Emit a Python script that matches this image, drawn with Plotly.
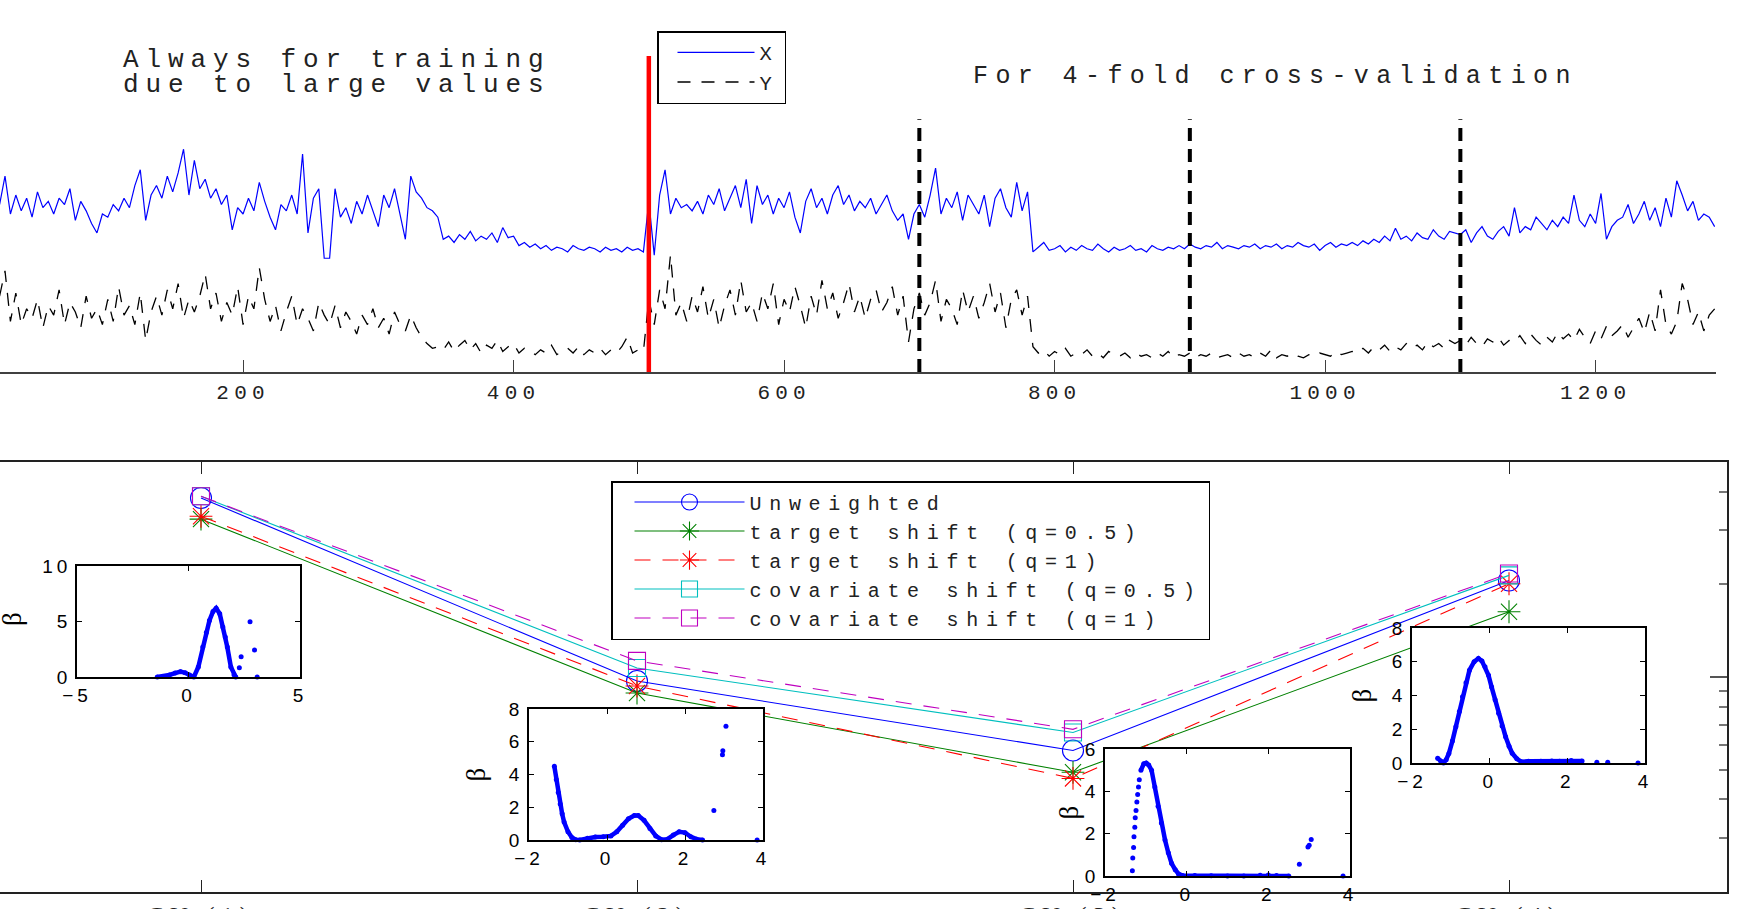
import numpy as np
import plotly.graph_objects as go

W, H = 1757, 909

# ---------------- top panel: time series ----------------
series_x = [
    5.3, 6.2, 5.0, 5.6, 5.1, 5.5, 4.9, 5.7, 5.2, 5.4,
    5.0, 5.5, 5.3, 5.8, 4.8, 5.4, 5.1, 4.7, 4.4, 5.0,
    4.9, 5.3, 5.1, 5.5, 5.2, 5.9, 6.4, 4.8, 5.6, 5.9,
    5.5, 6.2, 5.7, 6.3, 7.05, 5.6, 6.7, 5.8, 6.1, 5.5,
    5.8, 5.3, 5.6, 4.5, 5.2, 5.0, 5.5, 5.1, 6.0, 5.4,
    4.9, 4.5, 5.3, 5.1, 5.6, 5.0, 6.9, 4.4, 5.5, 5.8,
    3.6, 3.6, 5.8, 4.9, 5.2, 4.7, 5.4, 5.0, 5.6, 5.1,
    4.6, 5.6, 5.2, 5.8, 5.0, 4.2, 6.2, 5.7, 5.5, 5.2,
    5.1, 4.9, 4.2, 4.3, 4.1, 4.35, 4.2, 4.45, 4.15, 4.3,
    4.2, 4.4, 4.1, 4.57, 4.25, 4.3, 4.0, 4.1, 3.95, 4.05,
    3.9, 4.0, 3.85, 3.95, 3.9, 3.8, 4.0, 3.9, 3.85, 3.95,
    3.9, 3.8, 3.95, 3.85, 3.9, 3.8, 3.95, 3.85, 3.9, 3.8,
    5.4, 3.7, 5.6, 6.4, 5.0, 5.5, 5.2, 5.3, 5.1, 5.4,
    5.0, 5.6, 5.3, 5.8, 5.1, 5.5, 5.9, 5.2, 6.1, 4.7,
    5.9, 5.3, 5.6, 5.0, 5.5, 5.2, 5.7, 4.9, 4.4, 5.4,
    5.8, 5.2, 5.5, 5.0, 5.6, 5.9, 5.3, 5.6, 5.1, 5.4,
    5.2, 5.5, 5.0, 5.3, 5.6, 5.1, 4.8, 5.0, 4.2, 5.0,
    5.3, 4.9, 5.6, 6.45, 5.0, 5.5, 5.2, 5.7, 4.8, 5.6,
    5.3, 5.0, 5.6, 4.6, 5.5, 5.8, 5.2, 4.9, 6.0, 5.1,
    5.7, 3.8, 3.95, 4.1, 3.85, 3.9, 4.0, 3.8, 3.95, 3.85,
    4.0, 3.9, 3.85, 4.05, 3.9, 3.8, 3.95, 3.85, 3.9, 4.0,
    3.85, 3.9, 3.8, 4.0, 3.9, 3.85, 3.95, 3.9, 4.0, 3.9,
    4.05, 3.95, 3.9, 4.0, 3.95, 4.1, 3.9, 4.0, 3.95, 3.9,
    4.0, 3.95, 4.05, 3.9, 4.0, 3.95, 4.05, 3.9, 4.0, 3.95,
    4.1, 4.0, 3.95, 4.05, 3.85, 4.0, 4.1, 3.95, 4.05, 4.0,
    4.1, 4.0, 4.15, 4.05, 4.2, 4.1, 4.3, 4.15, 4.55, 4.2,
    4.3, 4.15, 4.4, 4.25, 4.2, 4.5, 4.3, 4.2, 4.45, 4.4,
    4.35, 4.5, 4.1, 4.4, 4.6, 4.3, 4.2, 4.45, 4.6, 4.3,
    5.2, 4.4, 4.6, 4.5, 4.9, 4.7, 4.5, 4.8, 4.6, 4.9,
    4.7, 5.6, 4.8, 4.6, 5.0, 4.7, 5.65, 4.2, 4.6, 4.8,
    4.9, 5.3, 4.7, 5.0, 5.4, 4.8, 5.2, 4.6, 5.5, 4.9,
    6.05, 5.6, 5.1, 5.4, 4.8, 5.0, 4.9, 4.6,
]
series_y = [
    2.4, 3.2, 1.6, 2.5, 1.5, 2.0, 1.7, 2.3, 1.4, 2.1,
    1.8, 2.6, 1.5, 2.2, 1.9, 1.4, 2.4, 1.7, 2.0, 1.5,
    2.3, 1.6, 2.7, 1.8, 2.1, 1.5, 2.5, 1.0, 1.9, 2.4,
    1.8, 2.6, 2.0, 2.8, 1.7, 2.3, 1.9, 2.4, 3.1, 2.0,
    2.5, 1.6, 2.2, 1.8, 2.7, 1.5, 2.4, 2.0, 3.3, 2.3,
    1.6, 2.1, 1.3, 1.9, 2.4, 1.5, 2.0, 1.7, 1.3, 2.2,
    1.8, 1.5, 2.1, 1.4, 1.9, 1.6, 1.2, 1.8, 1.5, 2.0,
    1.4, 1.7, 1.2, 1.9, 1.5, 1.3, 1.8, 1.4, 1.1, 0.9,
    0.75, 0.8, 0.7, 0.95, 0.65, 0.85, 1.0, 0.7, 0.9, 0.6,
    0.85, 0.75, 1.0, 0.65, 0.8, 0.9, 0.6, 0.75, 0.7, 0.55,
    0.7, 0.6, 0.85, 0.55, 0.65, 0.75, 0.6, 0.8, 0.55, 0.7,
    0.6, 0.75, 0.55, 0.7, 0.6, 0.8, 1.1, 0.6, 0.7, 0.65,
    2.3, 1.5, 2.6, 2.0, 3.7, 1.8, 2.2, 1.6, 2.4, 1.9,
    2.7, 1.7, 2.3, 1.4, 2.1, 2.6, 1.8, 2.9, 1.9, 2.2,
    1.6, 2.5, 2.0, 2.8, 1.5, 2.3, 1.9, 2.7, 2.1, 1.4,
    2.4, 1.8, 2.9, 2.0, 2.5, 1.7, 2.2, 2.8, 1.9, 2.4,
    1.7, 2.3, 2.6, 1.9, 2.2, 2.7, 1.8, 2.4, 0.95, 2.0,
    2.5, 1.8, 2.2, 2.9, 1.6, 2.3, 2.0, 1.5, 2.6, 1.9,
    2.4, 1.7, 2.2, 2.8, 1.9, 2.5, 1.4, 2.3, 2.6, 1.8,
    2.4, 0.8, 0.6, 0.7, 0.5, 0.65, 0.55, 0.75, 0.5, 0.6,
    0.55, 0.7, 0.5, 0.6, 0.45, 0.65, 0.55, 0.5, 0.6, 0.45,
    0.6, 0.5, 0.55, 0.45, 0.6, 0.5, 0.65, 0.45, 0.55, 0.5,
    0.6, 0.45, 0.55, 0.5, 0.6, 0.45, 0.5, 0.55, 0.45, 0.6,
    0.5, 0.55, 0.45, 0.6, 0.5, 0.7, 0.45, 0.55, 0.5, 0.6,
    0.5, 0.45, 0.55, 0.5, 0.6, 0.55, 0.5, 0.65, 0.55, 0.6,
    0.65, 0.6, 0.75, 0.6, 0.8, 0.7, 0.85, 0.65, 0.8, 0.7,
    0.9, 0.75, 0.85, 0.7, 0.95, 0.8, 0.9, 0.75, 1.0, 0.9,
    1.0, 0.85, 1.1, 0.9, 0.8, 1.05, 0.95, 1.1, 0.85, 1.0,
    0.95, 1.15, 0.9, 1.2, 1.0, 0.85, 1.1, 0.95, 1.25, 1.05,
    1.2, 1.0, 1.35, 1.1, 0.9, 1.3, 1.05, 1.45, 1.15, 1.3,
    1.5, 1.1, 1.4, 1.7, 1.25, 1.9, 1.3, 2.6, 1.5, 1.2,
    1.6, 2.8, 2.3, 1.5, 1.9, 1.3, 1.8, 2.0,
]
t_start, t_step = 20, 4
t = t_start + t_step * np.arange(len(series_x))

train_end = 500
fold_bounds = [700, 900, 1100]
top_ticks = [200, 400, 600, 800, 1000, 1200]

# ---------------- bottom panel: CV results ----------------
cv_pos = [1, 2, 3, 4]
cv_labels = ["CV (1)", "CV (2)", "CV (3)", "CV (4)"]
unweighted = [0.382, 0.097, 0.0577, 0.206]
target_q05 = [0.326, 0.0887, 0.049, 0.163]
target_q1 = [0.333, 0.0935, 0.0468, 0.201]
covariate_q05 = [0.387, 0.107, 0.066, 0.214]
covariate_q1 = [0.387, 0.1128, 0.0676, 0.217]
y_major = [0.1]
y_minor = [0.03, 0.04, 0.05, 0.06, 0.07, 0.08, 0.09, 0.2, 0.3, 0.4]

# ---------------- insets: beta(x) ----------------
in1_x = [-1.4, -1.1, -0.86, -0.6, -0.36, -0.15, 0.04, 0.24, 0.44, 0.64, 0.8, 0.94, 1.1,
         1.24, 1.4, 1.54, 1.65, 1.74, 1.9, 2.04, 2.12]
in1_b = [0.0, 0.05, 0.18, 0.35, 0.48, 0.38, 0.18, 0.0, 0.9, 2.7, 4.0, 5.1, 5.9,
         6.2, 5.7, 4.5, 3.6, 2.7, 0.9, 0.2, 0.0]
in1_px = [2.28, 2.36, 2.76, 2.96, 3.08]
in1_pb = [0.84, 1.83, 4.97, 2.43, 0.0]

in2_x = [-1.35, -1.3, -1.25, -1.2, -1.15, -1.1, -1.0, -0.9, -0.8, -0.7, -0.5, -0.3, -0.1,
         0.1, 0.25, 0.4, 0.55, 0.7, 0.8, 0.95, 1.1, 1.25, 1.4, 1.55, 1.7, 1.85, 2.0,
         2.15, 2.3, 2.45]
in2_b = [4.5, 3.7, 2.9, 2.2, 1.6, 1.1, 0.5, 0.15, 0.02, 0.0, 0.1, 0.18, 0.2,
         0.25, 0.5, 0.9, 1.3, 1.5, 1.5, 1.2, 0.7, 0.25, 0.02, 0.05, 0.3, 0.5, 0.45,
         0.2, 0.05, 0.0]
in2_px = [2.74, 2.96, 2.97, 3.05, 3.85]
in2_pb = [1.8, 5.2, 5.45, 6.95, 0.0]

in3_x = [-1.12, -1.05, -0.99, -0.93, -0.86, -0.78, -0.70, -0.62, -0.53, -0.45, -0.37,
         -0.28, -0.2, -0.1, 0.2, 0.6, 1.0, 1.4, 1.8, 2.0, 2.2, 2.5]
in3_b = [5.0, 5.3, 5.34, 5.25, 5.0, 4.2, 3.3, 2.5, 1.7, 1.1, 0.6,
         0.3, 0.1, 0.02, 0.02, 0.01, 0.0, 0.0, 0.04, 0.05, 0.02, 0.0]
in3_px = [-1.33, -1.32, -1.3, -1.29, -1.27, -1.26, -1.24, -1.22, -1.2, -1.18, -1.16,
          2.76, 2.97, 3.0, 3.05, 3.83]
in3_pb = [0.25, 0.85, 1.35, 1.85, 2.3, 2.75, 3.1, 3.5, 3.85, 4.2, 4.55,
          0.56, 1.37, 1.45, 1.73, 0.0]

in4_x = [-1.34, -1.26, -1.19, -1.12, -1.05, -0.96, -0.87, -0.78, -0.70, -0.61, -0.52,
         -0.40, -0.29, -0.2, -0.12, -0.03, 0.05, 0.14, 0.23, 0.32, 0.41, 0.5, 0.58,
         0.7, 0.81, 1.0, 1.32, 1.6, 1.8, 2.1, 2.38]
in4_b = [0.28, 0.1, 0.0, 0.2, 0.57, 1.3, 2.15, 3.05, 3.93, 4.75, 5.5,
         6.0, 6.2, 6.05, 5.7, 5.2, 4.5, 3.75, 2.95, 2.2, 1.56, 1.0, 0.58,
         0.25, 0.08, 0.1, 0.1, 0.12, 0.1, 0.15, 0.12]
in4_px = [2.76, 3.04, 3.82]
in4_pb = [0.05, 0.05, 0.0]


def fx(p):
    return p / W


def fy(p):
    return 1 - p / H


BLUE = '#0000ff'
fig = go.Figure()

fig.add_trace(go.Scatter(x=t, y=series_x, mode='lines', name='X', xaxis='x', yaxis='y',
                         legend='legend', line=dict(color=BLUE, width=1.2)))
fig.add_trace(go.Scatter(x=t, y=series_y, mode='lines', name='Y', xaxis='x', yaxis='y',
                         legend='legend', line=dict(color='black', width=1.3, dash='13px,11px')))

cv_series = [
    ("Unweighted", unweighted, '#0000ff', 'solid', 'circle-open', 21),
    ("target shift (q=0.5)", target_q05, '#008000', 'solid', 'asterisk-open', 19),
    ("target shift (q=1)", target_q1, '#ff0000', '16px,12px', 'asterisk-open', 19),
    ("covariate shift (q=0.5)", covariate_q05, '#00bfbf', 'solid', 'square-open', 17),
    ("covariate shift (q=1)", covariate_q1, '#bf00bf', '16px,12px', 'square-open', 17),
]
for name, vals, col, dash, sym, size in cv_series:
    fig.add_trace(go.Scatter(
        x=cv_pos, y=vals, mode='lines+markers', name=name, xaxis='x2', yaxis='y2',
        legend='legend2', line=dict(color=col, width=1.1, dash=dash),
        marker=dict(symbol=sym, size=size, color=col, line=dict(color=col, width=1.1))))

insets = [
    (3, in1_x, in1_b, in1_px, in1_pb),
    (4, in2_x, in2_b, in2_px, in2_pb),
    (5, in3_x, in3_b, in3_px, in3_pb),
    (6, in4_x, in4_b, in4_px, in4_pb),
]
for k, cx, cb, px_, pb_ in insets:
    fig.add_trace(go.Scatter(x=cx, y=cb, mode='lines+markers', xaxis=f'x{k}', yaxis=f'y{k}',
                             showlegend=False, cliponaxis=False,
                             line=dict(color=BLUE, width=4.5), marker=dict(color=BLUE, size=5)))
    fig.add_trace(go.Scatter(x=px_, y=pb_, mode='markers', xaxis=f'x{k}', yaxis=f'y{k}',
                             showlegend=False, cliponaxis=False,
                             marker=dict(color=BLUE, size=5)))

mono = 'Liberation Mono, Courier New, monospace'
serif = 'Liberation Serif, Times New Roman, serif'
sans = 'Liberation Sans, Arial, sans-serif'

layout = dict(
    template='none',
    width=W, height=H, autosize=False,
    margin=dict(l=0, r=0, t=0, b=0, pad=0),
    paper_bgcolor='white', plot_bgcolor='white',
    showlegend=True,
    xaxis=dict(domain=[0, fx(1716)], range=[20.3, 1289], anchor='y',
               showline=True, linecolor='#404040', linewidth=2,
               ticks='inside', ticklen=12, tickwidth=1.2, tickcolor='#404040',
               tickvals=top_ticks, tickfont=dict(family=mono, size=21, color='#222'),
               showgrid=False, zeroline=False),
    yaxis=dict(domain=[fy(372), fy(56)], range=[0, 10], anchor='x', visible=False),
    xaxis2=dict(domain=[0, fx(1727)], range=[0.539, 4.5], anchor='y2',
                showline=True, mirror='allticks', linecolor='#222', linewidth=1.5,
                ticks='inside', ticklen=12, tickwidth=1.2, tickcolor='#222',
                tickvals=cv_pos, ticktext=cv_labels,
                tickfont=dict(family=serif, size=24, color='#222'),
                showgrid=False, zeroline=False),
    yaxis2=dict(domain=[fy(892), fy(462)], type='log',
                range=[np.log10(0.02), np.log10(0.5)], anchor='x2', side='right',
                showline=True, linecolor='#222', linewidth=1.5,
                ticks='inside', ticklen=17, tickwidth=1.5, tickcolor='#555',
                tickvals=y_major, showticklabels=False,
                minor=dict(tickvals=y_minor, ticks='inside', ticklen=8,
                           tickwidth=1.5, tickcolor='#777', showgrid=False),
                showgrid=False, zeroline=False),
    legend=dict(x=fx(657), y=fy(31), xanchor='left', yanchor='top',
                bgcolor='white', bordercolor='black', borderwidth=1.5,
                font=dict(family=mono, size=20.5, color='#222'),
                itemwidth=77, indentation=14, tracegroupgap=0),
    legend2=dict(x=fx(611), y=fy(481), xanchor='left', yanchor='top',
                 bgcolor='white', bordercolor='black', borderwidth=1.5,
                 font=dict(family=mono, size=20, color='#222'),
                 itemwidth=110, indentation=17, tracegroupgap=0),
)

inset_boxes = {3: (77, 300, 566, 677), 4: (529, 763, 709, 840),
               5: (1105, 1350, 749, 876), 6: (1412, 1645, 628, 763)}
inset_ranges = {3: ([-5, 5], [0, 10], 5, 5), 4: ([-2, 4], [0, 8], 2, 2),
                5: ([-2, 4], [0, 6], 2, 2), 6: ([-2, 4], [0, 8], 2, 2)}
for k, (l, r, tp, bt) in inset_boxes.items():
    xr, yr, dx, dy = inset_ranges[k]
    common = dict(showline=True, mirror='ticks', linecolor='black', linewidth=1.5,
                  ticks='inside', ticklen=5, tickwidth=1, tickcolor='black',
                  tickfont=dict(family=sans, size=19, color='black'),
                  showgrid=False, zeroline=False, tick0=0)
    layout[f'xaxis{k}'] = dict(domain=[fx(l), fx(r)], range=xr, anchor=f'y{k}', dtick=dx, **common)
    layout[f'yaxis{k}'] = dict(domain=[fy(bt), fy(tp)], range=yr, anchor=f'x{k}', dtick=dy, **common)

annotations = [
    dict(text="Always for training", x=fx(121), y=fy(60)),
    dict(text="due to large values", x=fx(121), y=fy(85)),
    dict(text="For 4-fold cross-validation", x=fx(971), y=fy(77)),
]
for i, a in enumerate(annotations):
    a.update(xref='paper', yref='paper', xanchor='left', yanchor='middle', align='left',
             showarrow=False,
             font=dict(family=mono, size=26 if i < 2 else 25, color='#222'))
beta_pos = [(12, 619), (475, 774.5), (1068, 812.5), (1361, 695.5)]
for bx, by in beta_pos:
    annotations.append(dict(text="β", x=fx(bx), y=fy(by), xref='paper', yref='paper',
                            xanchor='center', yanchor='middle', showarrow=False,
                            textangle=-90, font=dict(family=serif, size=27, color='black')))
layout['annotations'] = annotations

shapes = [dict(type='line', xref='x', yref='y', x0=train_end, x1=train_end, y0=0, y1=10,
               line=dict(color='#ff0000', width=4.5))]
for b in fold_bounds:
    shapes.append(dict(type='line', xref='x', yref='y', x0=b, x1=b, y0=0, y1=8,
                       line=dict(color='black', width=4, dash='13px,8px')))
layout['shapes'] = shapes

fig.update_layout(**layout)

post_js = """
var gd = document.getElementById('{plot_id}');
var st = document.createElement('style');
st.textContent = '.legendtext{letter-spacing:7px;}' +
  '.legend2text{letter-spacing:7.7px;}' +
  '.xtick text{letter-spacing:5.2px;}' +
  '.x2tick text{letter-spacing:6.7px;}' +
  '.x3tick text,.x4tick text,.x5tick text,.x6tick text,.y3tick text,.y4tick text,.y5tick text,.y6tick text{letter-spacing:4px;}' +
  '.annotation[data-index="0"] text,.annotation[data-index="1"] text{letter-spacing:6.9px;}' +
  '.annotation[data-index="2"] text{letter-spacing:7.4px;}';
document.head.appendChild(st);
Plotly.relayout(gd, {'legend.font.size': 20.51, 'legend2.font.size': 20.01});
"""

fig.write_html("out.html", config={'displayModeBar': False}, post_script=post_js)
